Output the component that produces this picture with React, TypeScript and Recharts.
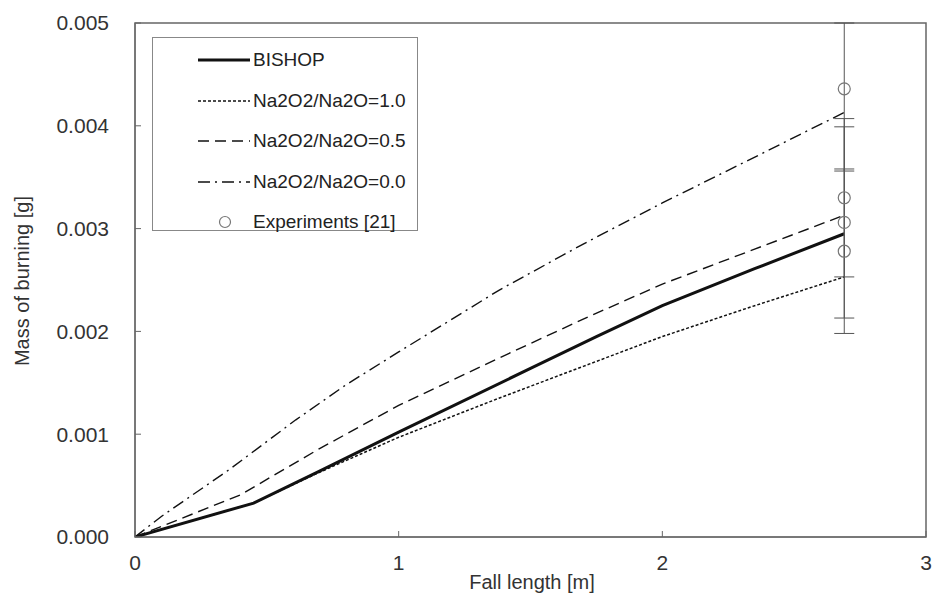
import React from "react"
import {
  ComposedChart,
  Line,
  Scatter,
  ErrorBar,
  XAxis,
  YAxis,
  Legend,
  ReferenceArea,
} from "recharts"

// fall length [m] vs mass of burning [g]
const bishop = [
  [0, 0], [0.45, 0.00033], [0.7, 0.00064], [1.0, 0.00102], [1.5, 0.00164],
  [1.75, 0.00195], [2.0, 0.00225], [2.35, 0.00261], [2.69, 0.00295],
]
const ratio10 = [
  [0, 0], [0.45, 0.00033], [0.7, 0.00063], [1.0, 0.00097], [1.38, 0.00135],
  [1.7, 0.00166], [2.0, 0.00195], [2.35, 0.00225], [2.69, 0.00253],
]
const ratio05 = [
  [0, 0], [0.4, 0.00041], [0.7, 0.00086], [1.0, 0.00128], [1.38, 0.00174],
  [1.7, 0.00212], [2.0, 0.00246], [2.35, 0.0028], [2.69, 0.00313],
]
const ratio00 = [
  [0, 0], [0.1, 0.0002], [0.36, 0.00066], [0.61, 0.00114], [0.8, 0.00148],
  [1.0, 0.0018], [1.38, 0.0024], [1.7, 0.00285], [2.0, 0.00325],
  [2.37, 0.00372], [2.69, 0.00413],
]
const expX = [2.69, 2.69, 2.69, 2.69]
const expY = [0.00436, 0.0033, 0.00306, 0.00278]
const expErr = [
  [0.0008, 0.00064],
  [0.00077, 0.00077],
  [0.00093, 0.00093],
  [0.0008, 0.0008],
]

const xTicks = [0, 1, 2, 3]
const yTicks = [0, 0.001, 0.002, 0.003, 0.004, 0.005]

const toPts = (arr: number[][]) => arr.map(([x, y]) => ({ x, y }))
const expData = expX.map((x, i) => ({ x, y: expY[i], err: expErr[i] }))

const font = "'Liberation Sans', Arial, sans-serif"
const ink = "#111"

const legendRows = [
  { name: "BISHOP", dash: undefined, width: 3 },
  { name: "Na2O2/Na2O=1.0", dash: "3 2", width: 1.5 },
  { name: "Na2O2/Na2O=0.5", dash: "11 6", width: 1.4 },
  { name: "Na2O2/Na2O=0.0", dash: "12 5 2 5", width: 1.4 },
]

function LegendBox() {
  return (
    <div
      style={{
        width: 266,
        height: 194,
        border: "1px solid #888",
        boxSizing: "border-box",
        background: "#fff",
        position: "relative",
        fontFamily: font,
        fontSize: 19,
        color: "#222",
      }}
    >
      {legendRows.map((r, i) => (
        <div
          key={r.name}
          style={{ position: "absolute", left: 45, top: 22 + i * 40.5 - 12, height: 24, display: "flex", alignItems: "center" }}
        >
          <svg width={54} height={24}>
            <line x1={0} x2={52} y1={12} y2={12} stroke={ink} strokeWidth={r.width} strokeDasharray={r.dash} />
          </svg>
          <span style={{ marginLeft: 1 }}>{r.name}</span>
        </div>
      ))}
      <div style={{ position: "absolute", left: 45, top: 22 + 4 * 40.5 - 12, height: 24, display: "flex", alignItems: "center" }}>
        <svg width={54} height={24}>
          <circle cx={27} cy={12} r={5.5} fill="none" stroke="#777" strokeWidth={1.2} />
        </svg>
        <span style={{ marginLeft: 1 }}>Experiments [21]</span>
      </div>
    </div>
  )
}

export default function App() {
  return (
    <div style={{ position: "absolute", left: 0, top: 0, width: 934, height: 606, background: "#fff" }}>
      <ComposedChart width={934} height={606} margin={{ top: 23, right: 8, left: 0, bottom: 0 }} style={{ overflow: "visible" }}>
        <XAxis
          type="number"
          dataKey="x"
          domain={[0, 3]}
          ticks={xTicks}
          interval={0}
          allowDataOverflow
          height={69}
          stroke="#666"
          tickSize={-6}
          tickMargin={24}
          tick={{ fill: "#333", fontSize: 21, fontFamily: font }}
          label={{
            content: () => (
              <text x={532} y={582} textAnchor="middle" dominantBaseline="central" fill="#333" fontSize={20} fontFamily={font}>
                Fall length [m]
              </text>
            ),
          }}
        />
        <YAxis
          type="number"
          dataKey="y"
          domain={[0, 0.005]}
          ticks={yTicks}
          interval={0}
          allowDataOverflow
          width={135}
          stroke="#666"
          tickSize={-6}
          tickMargin={32}
          tickFormatter={(v: number) => v.toFixed(3)}
          tick={{ fill: "#333", fontSize: 21, fontFamily: font }}
          label={{
            content: () => (
              <text
                x={22}
                y={281}
                transform="rotate(-90 22 281)"
                textAnchor="middle"
                dominantBaseline="central"
                fill="#333"
                fontSize={20}
                fontFamily={font}
              >
                Mass of burning [g]
              </text>
            ),
          }}
        />
        <ReferenceArea x1={0} x2={3} y1={0} y2={0.005} fill="none" stroke="#666" strokeWidth={1.5} />
        <Line data={toPts(ratio10)} dataKey="y" stroke={ink} strokeWidth={1.5} strokeDasharray="3 2" dot={false} isAnimationActive={false} />
        <Line data={toPts(ratio05)} dataKey="y" stroke={ink} strokeWidth={1.4} strokeDasharray="11 6" dot={false} isAnimationActive={false} />
        <Line data={toPts(ratio00)} dataKey="y" stroke={ink} strokeWidth={1.4} strokeDasharray="12 5 2 5" dot={false} isAnimationActive={false} />
        <Line data={toPts(bishop)} dataKey="y" stroke={ink} strokeWidth={3} dot={false} isAnimationActive={false} />
        <Scatter
          data={expData}
          dataKey="y"
          isAnimationActive={false}
          shape={(p: any) => <circle cx={p.cx} cy={p.cy} r={6} fill="none" stroke="#777" strokeWidth={1.2} />}
        >
          <ErrorBar dataKey="err" direction="y" width={10} stroke="#555" strokeWidth={1} isAnimationActive={false} />
        </Scatter>
        <Legend
          layout="vertical"
          align="center"
          verticalAlign="middle"
          content={() => <LegendBox />}
          wrapperStyle={{ position: "absolute", left: 152, top: 37, width: 266, height: 194 }}
        />
      </ComposedChart>
    </div>
  )
}
